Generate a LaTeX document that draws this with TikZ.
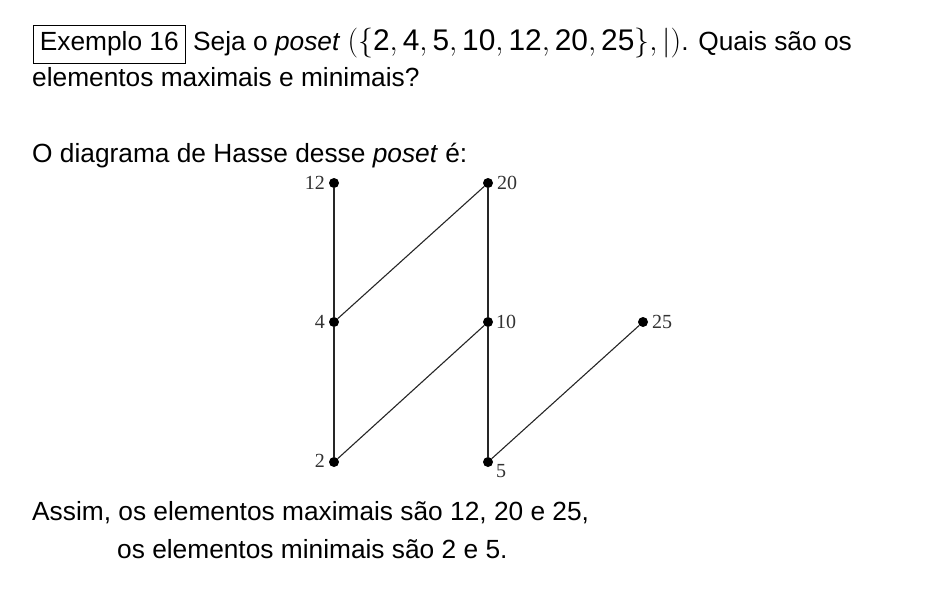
\documentclass[tikz,border=0pt]{standalone}
\usepackage{graphicx}
\usepackage{fontspec}
\setmainfont{Liberation Sans}
\newfontfamily\lblfont{Liberation Serif}
\newcommand{\dg}[1]{\mathrm{#1}}
\begin{document}
\begin{tikzpicture}[x=1pt,y=-1pt,
  txt/.style={inner sep=0pt,anchor=base west,font=\fontsize{26.3}{31}\selectfont},
  vtx/.style={circle,fill=black,inner sep=0pt,minimum size=10pt},
  lbl/.style={inner sep=0pt,font=\lblfont\fontsize{20}{24}\selectfont,text=black!80},
  edge/.style={line width=1.1pt,black!85}]
\useasboundingbox (0,0) rectangle (936,602);
\node[txt,draw,line width=0.7pt,inner xsep=6.5pt,inner ysep=6.5pt,anchor=base west] (ex) at (33,51) {Exemplo 16};
\node[txt] (l1) at (193,51) {Seja o \textit{poset} {\fontsize{24.88}{30}\selectfont\scalebox{1.2}{$(\{\dg{2},\dg{4},\dg{5},\dg{10},\dg{12},\dg{20},\dg{25}\},|)$}}. Quais são os};
\node[txt] (l2) at (32,86) {elementos maximais e minimais?};
\node[txt] (l3) at (32,162) {O diagrama de Hasse desse \textit{poset} é:};
\node[txt] (l4) at (32,520) {Assim, os elementos maximais são 12, 20 e 25,};
\node[txt] (l5) at (117,558) {os elementos minimais são 2 e 5.};
% vertices
\node[vtx] (n12) at (334,183) {};
\node[vtx] (n20) at (488,183) {};
\node[vtx] (n4) at (334,322) {};
\node[vtx] (n10) at (488,322) {};
\node[vtx] (n25) at (643,322) {};
\node[vtx] (n2) at (334,462) {};
\node[vtx] (n5) at (488,462) {};
% edges
\draw[edge] (n12) -- (n4);
\draw[edge] (n4) -- (n2);
\draw[edge] (n4) -- (n20);
\draw[edge] (n20) -- (n10);
\draw[edge] (n10) -- (n2);
\draw[edge] (n10) -- (n5);
\draw[edge] (n5) -- (n25);
% labels
\node[lbl,anchor=east] (t12) at (325,183) {12};
\node[lbl,anchor=west] (t20) at (497,183) {20};
\node[lbl,anchor=east] (t4) at (325,322) {4};
\node[lbl,anchor=west] (t10) at (496,322) {10};
\node[lbl,anchor=west] (t25) at (652,322) {25};
\node[lbl,anchor=east] (t2) at (325,461) {2};
\node[lbl,anchor=north west] (t5) at (496,464) {5};
\end{tikzpicture}
\end{document}
